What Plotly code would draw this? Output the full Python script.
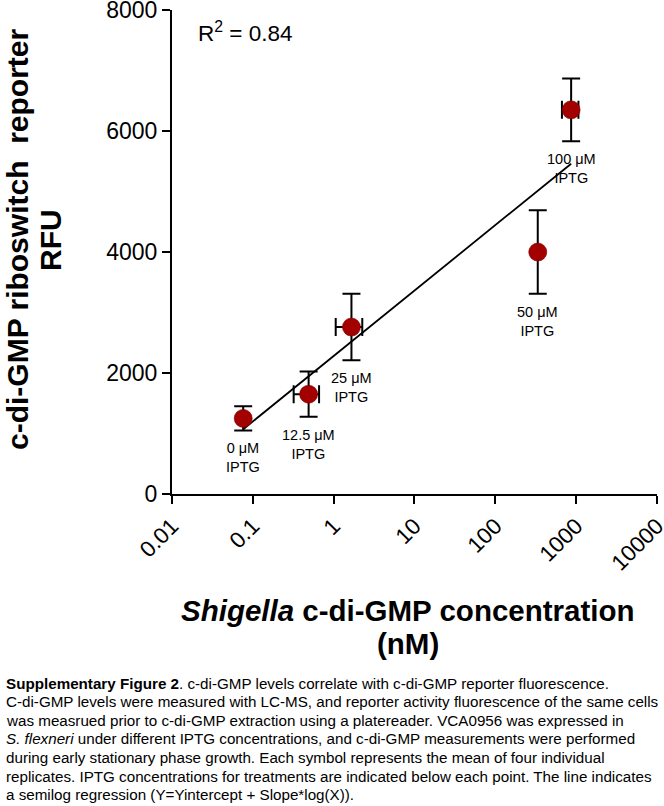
import numpy as np
import plotly.graph_objects as go

# ---- data ----
iptg_labels = ["0 μM", "12.5 μM", "25 μM", "50 μM", "100 μM"]
cdigmp_nM = [0.076, 0.49, 1.66, 335, 867]          # x (log scale)
cdigmp_err = [0.0, 0.17, 0.60, 0.0, 200]            # x error
rfu_mean = [1250, 1650, 2760, 4000, 6350]          # y
rfu_err = [200, 375, 550, 690, 520]                 # y error
r_squared = 0.84
x_tick_vals = [0.01, 0.1, 1, 10, 100, 1000, 10000]
x_tick_text = ["0.01", "0.1", "1", "10", "100", "1000", "10000"]
y_tick_vals = [0, 2000, 4000, 6000, 8000]

y_title_lines = ["c-di-GMP riboswitch  reporter", "RFU"]
x_title_lines = ["<i>Shigella</i> c-di-GMP concentration", "(nM)"]

caption_lines = [
    "<b>Supplementary Figure 2</b>. c-di-GMP levels correlate with c-di-GMP reporter fluorescence.",
    "C-di-GMP levels were measured with LC-MS, and reporter activity fluorescence of the same cells",
    "was measrued prior to c-di-GMP extraction using a platereader. VCA0956 was expressed in",
    "<i>S. flexneri</i> under different IPTG concentrations, and c-di-GMP measurements were performed",
    "during early stationary phase growth. Each symbol represents the mean of four individual",
    "replicates. IPTG concentrations for treatments are indicated below each point. The line indicates",
    "a semilog regression (Y=Yintercept + Slope*log(X)).",
]

# ---- layout geometry ----
W, H = 664, 806
ML, MR, MT, MB = 172, 7, 10, 312
PW = W - ML - MR
PH = H - MT - MB
FONT = "Arial, Liberation Sans, sans-serif"


def px(xp):
    return (xp - ML) / PW


def py(yp):
    return (H - MB - yp) / PH


# semilog regression computed from the data
lx = np.log10(cdigmp_nM)
slope, intercept = np.polyfit(lx, rfu_mean, 1)
fit_lx = np.linspace(lx.min(), lx.max(), 50)
fit_x = 10 ** fit_lx
fit_y = intercept + slope * fit_lx

fig = go.Figure()
fig.add_trace(go.Scatter(
    x=fit_x, y=fit_y, mode="lines",
    line=dict(color="black", width=1.8), hoverinfo="skip", showlegend=False))
fig.add_trace(go.Scatter(
    x=cdigmp_nM, y=rfu_mean, mode="markers",
    marker=dict(size=18, color="#a30000", line=dict(color="#7a0000", width=0.6)),
    error_y=dict(type="data", array=rfu_err, color="black", thickness=2, width=9),
    error_x=dict(type="data", array=cdigmp_err, color="black", thickness=2, width=9),
    showlegend=False))

annotations = []
for xv, yv, ev, lab in zip(cdigmp_nM, rfu_mean, rfu_err, iptg_labels):
    annotations.append(dict(
        x=np.log10(xv), y=yv - ev, xref="x", yref="y", xanchor="center", yanchor="top",
        yshift=-8, showarrow=False, text=lab + "<br>IPTG",
        font=dict(family=FONT, size=14.5, color="black"), align="center"))

annotations.append(dict(
    x=px(196), y=py(32), xref="paper", yref="paper", xanchor="left", yanchor="middle",
    showarrow=False, text=f"R<sup>2</sup> = {r_squared:.2f}",
    font=dict(family=FONT, size=22.5, color="black")))

# y-axis title, one annotation per line
for cx, line in zip([17, 50], y_title_lines):
    annotations.append(dict(
        x=px(cx), y=py(240), xref="paper", yref="paper", xanchor="center", yanchor="middle",
        textangle=-90, showarrow=False, text=f"<b>{line}</b>",
        font=dict(family=FONT, size=30, color="black")))

# x-axis title, one annotation per line
for cy, line in zip([610, 643], x_title_lines):
    annotations.append(dict(
        x=px(408), y=py(cy), xref="paper", yref="paper", xanchor="center", yanchor="middle",
        showarrow=False, text=f"<b>{line}</b>",
        font=dict(family=FONT, size=29.5, color="black")))

# caption, one annotation per line
for i, line in enumerate(caption_lines):
    annotations.append(dict(
        x=px(4), y=py(683 + 18.6 * i), xref="paper", yref="paper",
        xanchor="left", yanchor="middle", showarrow=False, align="left", text=line,
        font=dict(family=FONT, size=15.2, color="black")))

axis_common = dict(
    showgrid=False, zeroline=False, showline=True, linecolor="black", linewidth=2,
    ticks="outside", ticklen=8, tickwidth=2, tickcolor="black",
    ticklabeloverflow="allow", automargin=False)

fig.update_layout(
    width=W, height=H, margin=dict(l=ML, r=MR, t=MT, b=MB, autoexpand=False),
    paper_bgcolor="white", plot_bgcolor="white",
    font=dict(family=FONT, color="black"),
    xaxis=dict(type="log", range=[-2, 4.0002], tickvals=x_tick_vals, ticktext=x_tick_text,
               tickangle=-45, tickfont=dict(size=22.5, family=FONT), **axis_common),
    yaxis=dict(range=[0, 8001], tickvals=y_tick_vals, tickfont=dict(size=23, family=FONT),
               **axis_common),
    annotations=annotations,
)

fig.write_html("out.html")
